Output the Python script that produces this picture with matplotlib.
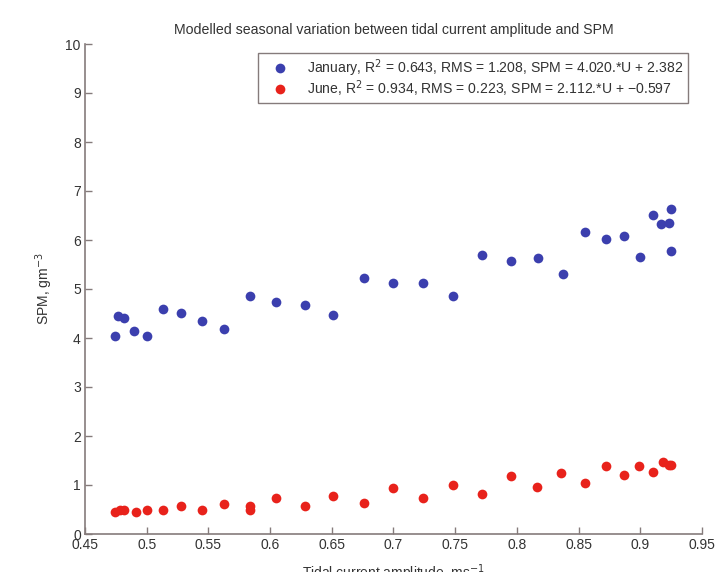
import matplotlib.pyplot as plt

plt.rcParams['font.family'] = ['Liberation Sans', 'DejaVu Sans']

# January values
jan_u = [0.474, 0.477, 0.482, 0.490, 0.500, 0.513, 0.528, 0.545, 0.563, 0.584,
         0.605, 0.628, 0.651, 0.676, 0.700, 0.724, 0.748, 0.772, 0.795, 0.817,
         0.837, 0.855, 0.872, 0.887, 0.900, 0.910, 0.917, 0.923, 0.925, 0.925]
jan_spm = [4.04, 4.45, 4.41, 4.14, 4.05, 4.59, 4.51, 4.35, 4.19, 4.85,
           4.74, 4.67, 4.46, 5.23, 5.12, 5.13, 4.86, 5.69, 5.58, 5.63,
           5.30, 6.17, 6.03, 6.08, 5.65, 6.52, 6.33, 6.35, 6.63, 5.77]

# June values
jun_u = [0.474, 0.478, 0.482, 0.491, 0.500, 0.513, 0.528, 0.545, 0.563, 0.584,
         0.584, 0.605, 0.628, 0.651, 0.676, 0.700, 0.724, 0.748, 0.772, 0.795,
         0.816, 0.836, 0.855, 0.872, 0.887, 0.899, 0.910, 0.918, 0.923, 0.925]
jun_spm = [0.44, 0.48, 0.50, 0.44, 0.49, 0.50, 0.57, 0.48, 0.61, 0.57,
           0.49, 0.73, 0.57, 0.78, 0.63, 0.94, 0.73, 1.01, 0.82, 1.18,
           0.96, 1.24, 1.05, 1.38, 1.21, 1.39, 1.27, 1.46, 1.41, 1.40]

jan_label = 'January, R$^2$ = 0.643, RMS = 1.208, SPM = 4.020.*U + 2.382'
jun_label = 'June, R$^2$ = 0.934, RMS = 0.223, SPM = 2.112.*U + \u22120.597'

x_ticks = [0.45, 0.5, 0.55, 0.6, 0.65, 0.7, 0.75, 0.8, 0.85, 0.9, 0.95]
y_ticks = list(range(0, 11))

axis_col = '#857b7b'
text_col = '#333333'

fig = plt.figure(figsize=(7.15, 5.72), dpi=100)
ax = fig.add_axes([85 / 715, 38 / 572, 617 / 715, 490 / 572])

ax.plot(jan_u, jan_spm, 'o', color='#3b3fae', markersize=7, markeredgewidth=0,
        label=jan_label)
ax.plot(jun_u, jun_spm, 'o', color='#e8221b', markersize=7, markeredgewidth=0,
        label=jun_label)

ax.set_xlim(0.45, 0.95)
ax.set_ylim(0, 10)
ax.set_xticks(x_ticks)
ax.set_xticklabels([('%g' % t) for t in x_ticks])
ax.set_yticks(y_ticks)

for s in ['top', 'right']:
    ax.spines[s].set_visible(False)
for s in ['left', 'bottom']:
    ax.spines[s].set_color(axis_col)
    ax.spines[s].set_linewidth(1.2)
ax.tick_params(direction='in', length=5, width=1, color=axis_col,
               labelsize=10, labelcolor=text_col, pad=3)

ax.set_title('Modelled seasonal variation between tidal current amplitude and SPM',
             fontsize=10.2, color=text_col, pad=7)
ax.set_ylabel('SPM, gm$^{-3}$', fontsize=10, color=text_col)
ax.yaxis.set_label_coords(-0.048, 0.5)
ax.set_xlabel('Tidal current amplitude, ms$^{-1}$', fontsize=10, color=text_col)
ax.xaxis.set_label_coords(0.5, -0.057)

leg = ax.legend(loc='upper right', bbox_to_anchor=(0.977, 0.982), fontsize=10.1,
                fancybox=False, edgecolor=axis_col, framealpha=1, handletextpad=0.7,
                handlelength=2.5, borderpad=0.3, labelspacing=0.0, borderaxespad=0)
leg.get_frame().set_linewidth(1.0)
for t in leg.get_texts():
    t.set_color(text_col)

plt.savefig('out.png', dpi=100)
